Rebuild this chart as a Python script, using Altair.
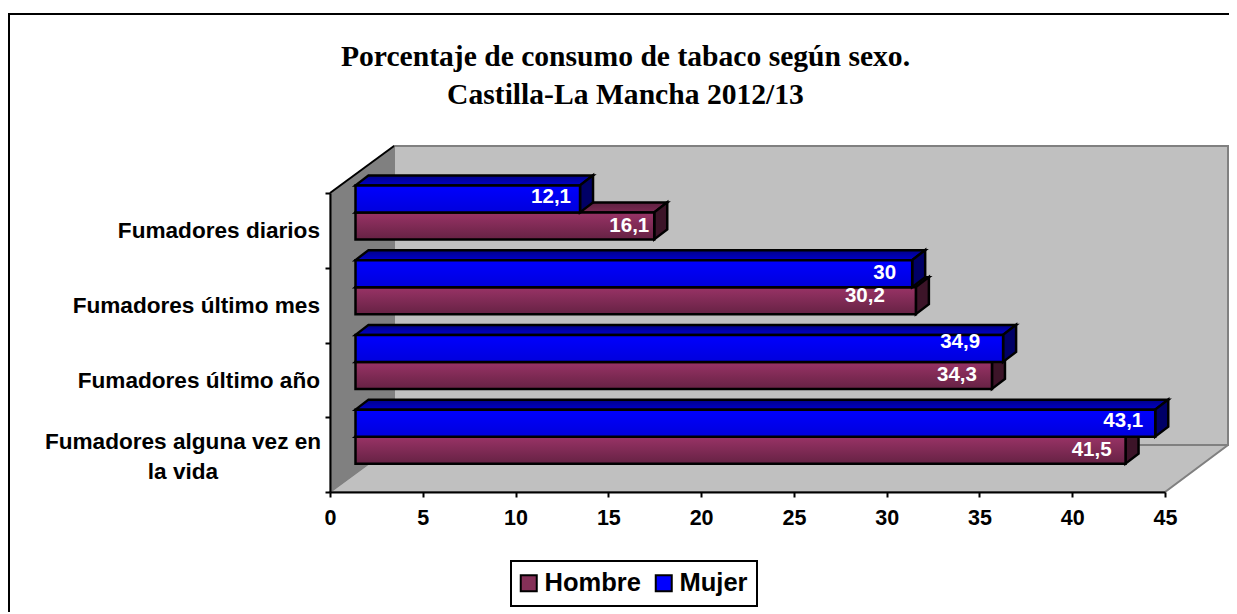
import altair as alt
import pandas as pd

categories = ["Fumadores alguna vez en la vida", "Fumadores último año", "Fumadores último mes", "Fumadores diarios"]
axis_labels = ["Fumadores alguna vez en\nla vida", "Fumadores último año", "Fumadores último mes", "Fumadores diarios"]
hombre = [41.5, 34.3, 30.2, 16.1]
mujer = [43.1, 34.9, 30.0, 12.1]
hombre_text = ["41,5", "34,3", "30,2", "16,1"]
mujer_text = ["43,1", "34,9", "30", "12,1"]
# manual label placement as in the source (pixels from bar end, pixels from bar centre)
hombre_gap = [14, 15, 31, 5]
mujer_gap = [12, 23, 16, 9]
hombre_dy = [0, 0, -5, 0]
mujer_dy = [-2, -6, -1, -2]
x_ticks = [0, 5, 10, 15, 20, 25, 30, 35, 40, 45]

W, H = 835, 299
XMAX, YMAX = 45, 4
PX, PY = W / XMAX, H / YMAX


def ux(p):
    return p / PX


def uy(p):
    return p / PY


BOX_X, BOX_Y = ux(64), uy(47)
FRONT_X, FRONT_Y = ux(25.5), uy(18)
DEPTH_X, DEPTH_Y = ux(13), uy(10)
BAR_H = uy(27)
EDGE = 2.5

x_scale = alt.Scale(domain=[0, XMAX], nice=False, zero=False)
y_scale = alt.Scale(domain=[0, YMAX], nice=False, zero=False)


def X(**kw):
    return alt.X("x:Q", scale=x_scale, title=None, **kw)


def Y(**kw):
    return alt.Y("y:Q", scale=y_scale, title=None, **kw)


x_axis = alt.Axis(values=x_ticks, grid=False, domainColor="black", domainWidth=2, tickColor="black",
                  tickWidth=2, tickSize=5, labelFont="Liberation Sans", labelFontWeight="bold",
                  labelFontSize=21.5, labelColor="black", labelPadding=10, labelAngle=0, zindex=1,
                  format="d", labelFlush=False)
y_axis = alt.Axis(values=list(range(YMAX + 1)), labels=False, grid=False, domainColor="black", domainWidth=2,
                  tickColor="black", tickWidth=2, tickSize=5, zindex=1)

# box: back wall, floor, side wall
wall = alt.Chart(pd.DataFrame({"x": [BOX_X], "x2": [XMAX + BOX_X + ux(-1)], "y": [BOX_Y], "y2": [YMAX + BOX_Y]})).mark_rect(
    fill="#C0C0C0", stroke="#808080", strokeWidth=2
).encode(x=X(axis=x_axis), x2="x2:Q", y=Y(axis=y_axis), y2="y2:Q")

floor = alt.Chart(pd.DataFrame({"y": [0, BOX_Y], "x": [0, BOX_X], "x2": [XMAX, XMAX + BOX_X + ux(-1)]})).mark_area(
    orient="horizontal", fill="#C0C0C0", stroke="#808080", strokeWidth=2
).encode(y=Y(), x=X(), x2="x2:Q")

side = alt.Chart(pd.DataFrame({"x": [0, BOX_X], "y": [0, BOX_Y], "y2": [YMAX, YMAX + BOX_Y]})).mark_area(
    orient="vertical", fill="#808080", stroke="#808080", strokeWidth=1
).encode(x=X(), y=Y(), y2="y2:Q")

side_edge = alt.Chart(pd.DataFrame({"x": [0, BOX_X], "y": [YMAX, YMAX + BOX_Y]})).mark_line(
    color="black", strokeWidth=2
).encode(x=X(), y=Y())


def grad(c1, c2):
    return alt.Gradient(gradient="linear", x1=0, x2=0, y1=0, y2=1,
                        stops=[alt.GradientStop(color=c1, offset=0), alt.GradientStop(color=c2, offset=1)])


def series_layers(values, upper, front, top, side_col):
    rows_f, rows_t, rows_s = [], [], []
    for i, v in enumerate(values):
        centre = i + 0.5 + FRONT_Y
        lo = centre if upper else centre - BAR_H
        hi = lo + BAR_H
        x0, x1 = FRONT_X, FRONT_X + v
        rows_f.append({"x": x0, "x2": x1, "y": lo, "y2": hi})
        rows_t += [{"k": i, "y": hi, "x": x0, "x2": x1},
                   {"k": i, "y": hi + DEPTH_Y, "x": x0 + DEPTH_X, "x2": x1 + DEPTH_X}]
        rows_s += [{"k": i, "x": x1, "y": lo, "y2": hi},
                   {"k": i, "x": x1 + DEPTH_X, "y": lo + DEPTH_Y, "y2": hi + DEPTH_Y}]
    t = alt.Chart(pd.DataFrame(rows_t)).mark_area(orient="horizontal", fill=top, stroke="black", strokeWidth=EDGE).encode(
        y=Y(), x=X(), x2="x2:Q", detail="k:N")
    s = alt.Chart(pd.DataFrame(rows_s)).mark_area(orient="vertical", fill=side_col, stroke="black", strokeWidth=EDGE).encode(
        x=X(), y=Y(), y2="y2:Q", detail="k:N")
    f = alt.Chart(pd.DataFrame(rows_f)).mark_rect(fill=front, stroke="black", strokeWidth=EDGE).encode(
        x=X(), x2="x2:Q", y=Y(), y2="y2:Q")
    return [t, s, f]


maroon = series_layers(hombre, False, grad("#993366", "#662244"), grad("#5E2040", "#7A2A52"), "#3C1428")
blue = series_layers(mujer, True, grad("#0000FF", "#0000DC"), grad("#000088", "#0000C8"), "#000066")


def value_labels(values, texts, gaps, dys, upper):
    rows = []
    for i, v in enumerate(values):
        centre = i + 0.5 + FRONT_Y + (BAR_H / 2 if upper else -BAR_H / 2)
        rows.append({"x": FRONT_X + v - ux(gaps[i]), "y": centre - uy(dys[i]), "t": texts[i]})
    return alt.Chart(pd.DataFrame(rows)).mark_text(
        align="right", baseline="middle", font="Liberation Sans", fontWeight="bold", fontSize=20.5, color="white"
    ).encode(x=X(), y=Y(), text="t:N")


cat_df = pd.DataFrame({"y": [i + 0.5 for i in range(4)], "t": axis_labels, "c": categories})
cat_right = alt.Chart(cat_df[1:]).mark_text(
    align="right", baseline="middle", font="Liberation Sans", fontWeight="bold", fontSize=22.6, color="black", dy=1
).encode(x=alt.value(-10), y=Y(), text="t:N")
cat_two = alt.Chart(cat_df[:1]).mark_text(
    align="center", baseline="middle", font="Liberation Sans", fontWeight="bold", fontSize=22.6, color="black",
    lineBreak="\n", lineHeight=30, dy=-13
).encode(x=alt.value(-147), y=Y(), text="t:N")

legend_df = pd.DataFrame({"x": [FRONT_X, FRONT_X], "y": [1, 1], "s": ["Hombre", "Mujer"]})
legend_layer = alt.Chart(legend_df).mark_square(opacity=0, size=256).encode(
    x=X(), y=Y(),
    color=alt.Color("s:N", sort=["Hombre", "Mujer"],
                    scale=alt.Scale(domain=["Hombre", "Mujer"], range=["#853058", "#0000FF"]),
                    legend=alt.Legend(title=None, orient="none", legendX=181, legendY=368, direction="horizontal",
                                      columns=2, symbolType="square", symbolSize=256, symbolOpacity=1,
                                      symbolStrokeColor="black", symbolStrokeWidth=2, fillColor="white",
                                      strokeColor="black", padding=9, labelFont="Liberation Sans",
                                      labelFontWeight="bold", labelFontSize=25.5, labelColor="black",
                                      columnPadding=10, labelOffset=3, symbolOffset=-4))
)

frame_left = alt.Chart(pd.DataFrame({"a": [0]})).mark_rule(color="black", strokeWidth=2).encode(
    x=alt.value(-321), y=alt.value(-179), y2=alt.value(500))
frame_top = alt.Chart(pd.DataFrame({"a": [0]})).mark_rule(color="black", strokeWidth=2).encode(
    x=alt.value(-322), x2=alt.value(920), y=alt.value(-179))

chart = alt.layer(
    wall, floor, side, side_edge, *maroon, *blue,
    value_labels(hombre, hombre_text, hombre_gap, hombre_dy, False),
    value_labels(mujer, mujer_text, mujer_gap, mujer_dy, True),
    cat_right, cat_two, legend_layer, frame_left, frame_top,
).properties(
    width=W, height=H,
    title=alt.TitleParams(
        text=["Porcentaje de consumo de tabaco según sexo.", "Castilla-La Mancha 2012/13"],
        font="Liberation Serif", fontSize=29.6, fontWeight="bold", color="black",
        anchor="middle", dx=-122, lineHeight=37.5, offset=-97.5,
    ),
    autosize=alt.AutoSizeParams(type="none"),
    padding={"left": 322, "top": 185, "right": 64, "bottom": 120},
    background="white",
).configure_view(stroke=None).configure_legend(strokeWidth=2)

chart.save("out.html", embed_options={"renderer": "svg", "actions": False})
